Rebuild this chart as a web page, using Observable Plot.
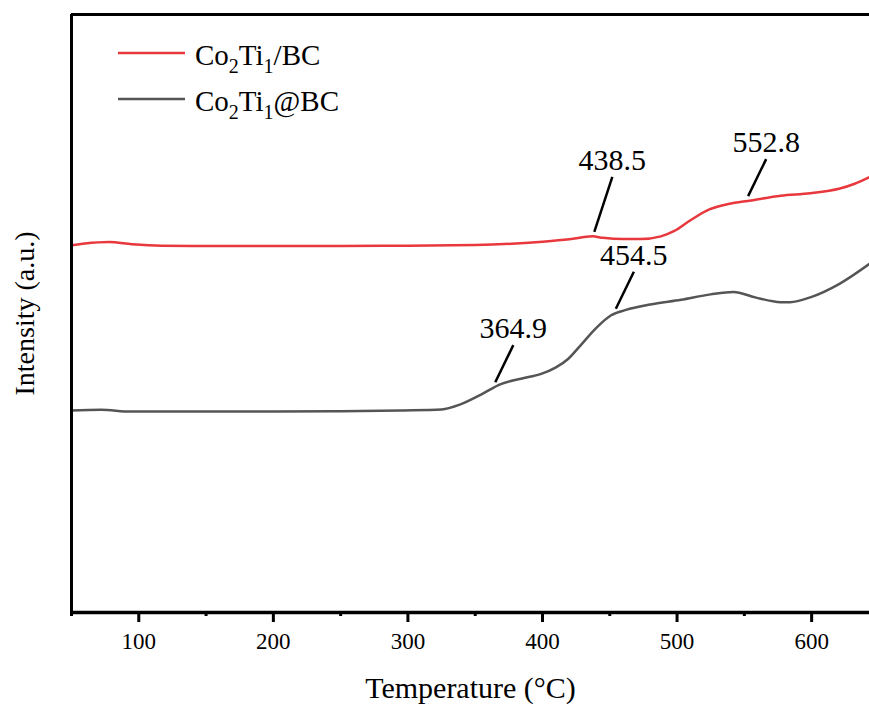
<!DOCTYPE html>
<html>
<head>
<meta charset="utf-8">
<script src="https://cdn.jsdelivr.net/npm/d3@7"></script>
<script src="https://cdn.jsdelivr.net/npm/@observablehq/plot@0.6"></script>
<style>
  body { margin: 0; background: #fff; }
  #chart svg { display: block; }
</style>
</head>
<body>
<div id="chart"></div>
<script>
const FONT = '"Liberation Serif", "Times New Roman", Times, serif';

// Co2Ti1/BC curve: temperature (°C) and intensity (a.u.)
const bcTemp = [50, 60, 78, 95, 117, 150, 200, 250, 300, 350, 380, 400, 420, 437, 445, 460, 473, 488, 498, 510, 524, 538, 555, 577, 599, 621, 632, 643];
const bcIntensity = [61.4, 61.7, 61.95, 61.6, 61.35, 61.3, 61.3, 61.3, 61.35, 61.45, 61.7, 62.0, 62.4, 62.9, 62.65, 62.45, 62.45, 62.9, 63.8, 65.6, 67.4, 68.3, 68.9, 69.7, 70.1, 70.9, 71.7, 72.8];

// Co2Ti1@BC curve
const atTemp = [50, 72, 94, 150, 200, 250, 295, 325, 339, 354, 369, 384, 399, 410, 419, 428, 440, 451, 462, 480, 503, 525, 542, 558, 577, 584, 599, 621, 643];
const atIntensity = [33.8, 33.9, 33.6, 33.6, 33.6, 33.65, 33.8, 33.95, 34.8, 36.4, 38.2, 39.1, 39.9, 41.0, 42.4, 44.6, 47.6, 49.7, 50.6, 51.5, 52.3, 53.2, 53.6, 52.7, 51.9, 51.9, 52.7, 55.0, 58.3];

const seriesColors = ["#e8383d", "#555555"];

// labelled peak temperatures and the curve each one belongs to (0 = /BC, 1 = @BC)
const peakLabels = ["364.9", "454.5", "438.5", "552.8"];
const peakCurve = [1, 1, 0, 0];

const xTicks = [100, 200, 300, 400, 500, 600];
const xMinorTicks = [50, 150, 250, 350, 450, 550];

const curves = [
  {temp: bcTemp, intensity: bcIntensity},
  {temp: atTemp, intensity: atIntensity}
];

function valueAt(curve, t) {
  const i = Math.max(1, d3.bisectLeft(curve.temp, t));
  const t0 = curve.temp[i - 1], t1 = curve.temp[i];
  const v0 = curve.intensity[i - 1], v1 = curve.intensity[i];
  return v0 + (v1 - v0) * (t - t0) / (t1 - t0);
}

const bcRows = bcTemp.map((t, i) => ({T: t, I: bcIntensity[i]}));
const atRows = atTemp.map((t, i) => ({T: t, I: atIntensity[i]}));

// leader lines start just above the curve and lean up to the right
const peaks = peakLabels.map((label, i) => {
  const T = +label;
  const base = valueAt(curves[peakCurve[i]], T) + 0.8;
  const rise = label === "438.5" ? 9.2 : 6.2;
  return {label, T, y1: base, x2: T + 13.4, y2: base + rise};
});

// legend drawn inside the frame, top-left
function legendMark(index, scales, values, dims) {
  const g = d3.create("svg:g")
    .attr("font-family", FONT)
    .attr("font-size", 29)
    .attr("text-anchor", "start")
    .attr("fill", "black");
  const x0 = dims.marginLeft + 47;
  const y0 = dims.marginTop + 39;
  const parts = [["Co", "2", "Ti", "1", "/BC"], ["Co", "2", "Ti", "1", "@BC"]];
  parts.forEach((p, i) => {
    const y = y0 + i * 46;
    g.append("line")
      .attr("x1", x0).attr("x2", x0 + 67)
      .attr("y1", y).attr("y2", y)
      .attr("stroke", seriesColors[i])
      .attr("stroke-width", 2.5);
    const t = g.append("text").attr("x", x0 + 77).attr("y", y + 12);
    t.append("tspan").text(p[0]);
    t.append("tspan").attr("dy", 8).attr("font-size", 20).text(p[1]);
    t.append("tspan").attr("dy", -8).text(p[2]);
    t.append("tspan").attr("dy", 8).attr("font-size", 20).text(p[3]);
    t.append("tspan").attr("dy", -8).text(p[4]);
  });
  return g.node();
}

const chart = Plot.plot({
  width: 869,
  height: 704,
  marginLeft: 71,
  marginRight: 0,
  marginTop: 14,
  marginBottom: 92,
  x: {domain: [50, 643]},
  y: {domain: [0, 100], axis: null},
  style: {fontFamily: FONT, background: "white", color: "black"},
  marks: [
    Plot.line(bcRows, {x: "T", y: "I", stroke: seriesColors[0], strokeWidth: 2.5, curve: "monotone-x"}),
    Plot.line(atRows, {x: "T", y: "I", stroke: seriesColors[1], strokeWidth: 2.5, curve: "monotone-x"}),
    Plot.link(peaks, {x1: "T", y1: "y1", x2: "x2", y2: "y2", stroke: "black", strokeWidth: 2.5}),
    Plot.text(peaks, {x: "x2", y: "y2", text: "label", lineAnchor: "bottom", dy: -7, fontSize: 30, fontFamily: FONT, fill: "black"}),
    Plot.ruleX([50], {stroke: "black", strokeWidth: 3}),
    Plot.ruleY([100], {stroke: "black", strokeWidth: 3}),
    Plot.ruleY([0], {stroke: "black", strokeWidth: 3.5}),
    Plot.axisX({ticks: xTicks, tickSize: 10, tickPadding: 10, fontSize: 23, fontFamily: FONT, strokeWidth: 3, label: null, tickFormat: d => String(d)}),
    Plot.axisX({ticks: xMinorTicks, tickSize: 4, strokeWidth: 3, label: null, tickFormat: () => ""}),
    Plot.text(["Temperature (°C)"], {frameAnchor: "bottom", textAnchor: "middle", lineAnchor: "bottom", dy: 85, fontSize: 30, fontFamily: FONT, fill: "black"}),
    Plot.text(["Intensity (a.u.)"], {frameAnchor: "left", textAnchor: "middle", rotate: -90, lineAnchor: "bottom", dx: -38, fontSize: 28, fontFamily: FONT, fill: "black"}),
    legendMark
  ]
});

document.getElementById("chart").appendChild(chart);
</script>
</body>
</html>
